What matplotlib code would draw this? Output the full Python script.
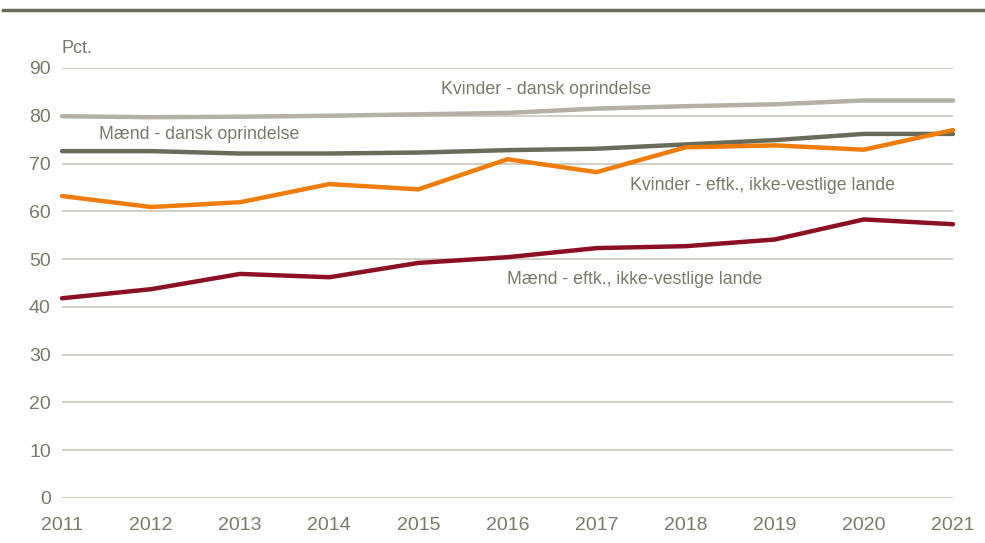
import matplotlib.pyplot as plt
from matplotlib import font_manager

# Pick a narrow font if available
names = {f.name for f in font_manager.fontManager.ttflist}
if 'Liberation Sans Narrow' in names:
    plt.rcParams['font.family'] = ['Liberation Sans Narrow', 'DejaVu Sans']
else:
    plt.rcParams['font.family'] = ['Liberation Sans', 'DejaVu Sans']

years = [2011, 2012, 2013, 2014, 2015, 2016, 2017, 2018, 2019, 2020, 2021]
kvinder_dansk = [79.9, 79.7, 79.8, 80.0, 80.3, 80.6, 81.5, 82.0, 82.4, 83.2, 83.2]
maend_dansk = [72.6, 72.6, 72.1, 72.1, 72.3, 72.8, 73.1, 74.0, 74.9, 76.2, 76.2]
kvinder_ikkevest = [63.2, 60.9, 61.9, 65.7, 64.6, 70.9, 68.2, 73.4, 73.8, 72.9, 77.0]
maend_ikkevest = [41.8, 43.7, 46.9, 46.2, 49.2, 50.4, 52.3, 52.7, 54.1, 58.3, 57.3]

text_color = '#7a796c'
grid_color = '#c9c7bc'

fig = plt.figure(figsize=(9.85, 5.43), dpi=100)
ax = fig.add_axes([0.0629, 0.0829, 0.9046, 0.7919])

ax.set_ylim(0, 90)
ax.set_xlim(2011, 2021)
ax.set_yticks(range(0, 91, 10))
ax.set_xticks(years)
ax.grid(axis='y', color=grid_color, linewidth=1.2)
ax.set_axisbelow(True)
for s in ax.spines.values():
    s.set_visible(False)
ax.tick_params(length=0, labelsize=14, colors=text_color, pad=8)
ax.tick_params(axis='x', pad=14)
for lab in ax.get_xticklabels():
    lab.set_clip_on(False)

ax.plot(years, kvinder_dansk, color='#b3b1a3', lw=3.2, solid_capstyle='round', clip_on=False)
ax.plot(years, maend_dansk, color='#6b6b5b', lw=3.2, solid_capstyle='round', clip_on=False)
ax.plot(years, kvinder_ikkevest, color='#f07c0a', lw=3.2, solid_capstyle='round', clip_on=False)
ax.plot(years, maend_ikkevest, color='#8b1023', lw=3.2, solid_capstyle='round', clip_on=False)

lab_kw = dict(color=text_color, fontsize=12.8, va='center')
ax.text(2015.25, 85.6, 'Kvinder - dansk oprindelse', ha='left', **lab_kw)
ax.text(2011.42, 76.1, 'Mænd - dansk oprindelse', ha='left', **lab_kw)
ax.text(2017.37, 65.3, 'Kvinder - eftk., ikke-vestlige lande', ha='left', **lab_kw)
ax.text(2016.0, 45.8, 'Mænd - eftk., ikke-vestlige lande', ha='left', **lab_kw)

fig.text(0.0629, 0.91, 'Pct.', color=text_color, fontsize=13, ha='left', va='center')

# top rule
fig.add_artist(plt.Line2D([0.003, 0.998], [0.982, 0.982], color='#6b6b5b', lw=2.5))

fig.savefig('out.png', dpi=100)
